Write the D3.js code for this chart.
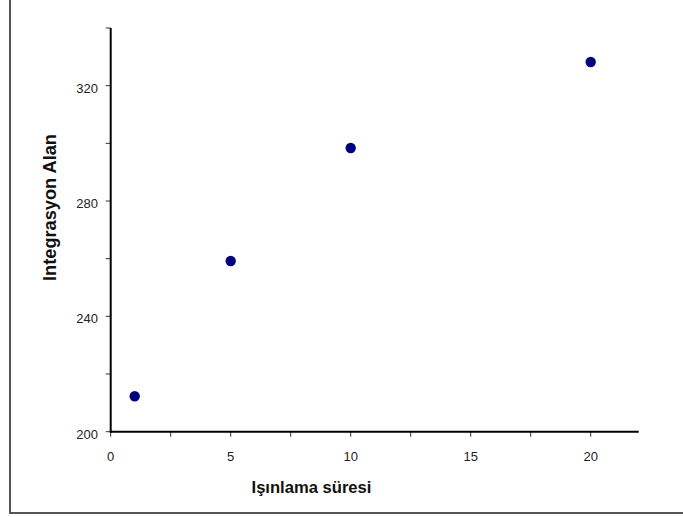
<!DOCTYPE html>
<html><head><meta charset="utf-8">
<script src="https://cdn.jsdelivr.net/npm/d3@7"></script>
<style>body{margin:0;background:#fff}svg{display:block}text{font-family:Arial,"Liberation Sans",sans-serif}</style>
</head><body>
<svg id="c" width="683" height="517"></svg>
<script>
const xValues = [1, 5, 10, 20];
const yValues = [212.3, 259.2, 298.4, 328.2];
const xTickLabels = [0, 5, 10, 15, 20];
const yTickLabels = [200, 240, 280, 320];
const xTitle = "Işınlama süresi";
const yTitle = "Integrasyon Alan";

const svg = d3.select("#c");
svg.append("rect").attr("x",10).attr("y",-10).attr("width",700).attr("height",523)
  .attr("fill","none").attr("stroke","#555").attr("stroke-width",2);

const x = d3.scaleLinear().domain([0,22]).range([110.7,638.7]);
const y = d3.scaleLinear().domain([200,340]).range([431.7,28]);

// minor ticks
const xMinor = d3.range(0, 22.01, 2.5);
svg.append("g").selectAll("line").data(xMinor).join("line")
  .attr("x1",d=>x(d)).attr("x2",d=>x(d)).attr("y1",y(200)).attr("y2",y(200)+5)
  .attr("stroke","#333").attr("stroke-width",1);
const yMinor = d3.range(200, 340.01, 20);
svg.append("g").selectAll("line").data(yMinor).join("line")
  .attr("x1",x(0)-5).attr("x2",x(0)).attr("y1",d=>y(d)).attr("y2",d=>y(d))
  .attr("stroke","#333").attr("stroke-width",1);

// axis lines
svg.append("line").attr("x1",x(0)).attr("x2",x(22)).attr("y1",y(200)).attr("y2",y(200))
  .attr("stroke","#000").attr("stroke-width",2);
svg.append("line").attr("x1",x(0)).attr("x2",x(0)).attr("y1",y(200)+1).attr("y2",y(340))
  .attr("stroke","#000").attr("stroke-width",2);

// tick labels
svg.append("g").selectAll("text").data(xTickLabels).join("text")
  .attr("x",d=>x(d)).attr("y",461).attr("text-anchor","middle")
  .attr("font-size",13).attr("fill","#222").text(d=>d);
svg.append("g").selectAll("text").data(yTickLabels).join("text")
  .attr("x",98).attr("y",d=>y(d)+7).attr("text-anchor","end")
  .attr("font-size",13).attr("fill","#222").text(d=>d);

// titles
svg.append("text").attr("x",311.5).attr("y",493).attr("text-anchor","middle")
  .attr("font-size",16.6).attr("font-weight","bold").attr("fill","#111").text(xTitle);
svg.append("text").attr("transform","translate(56,207.5) rotate(-90)").attr("text-anchor","middle")
  .attr("font-size",18.2).attr("font-weight","bold").attr("fill","#111").text(yTitle);

// points
svg.append("g").selectAll("circle").data(xValues).join("circle")
  .attr("cx",d=>x(d)).attr("cy",(d,i)=>y(yValues[i])).attr("r",5.2)
  .attr("fill","#000080");
</script>
</body></html>
